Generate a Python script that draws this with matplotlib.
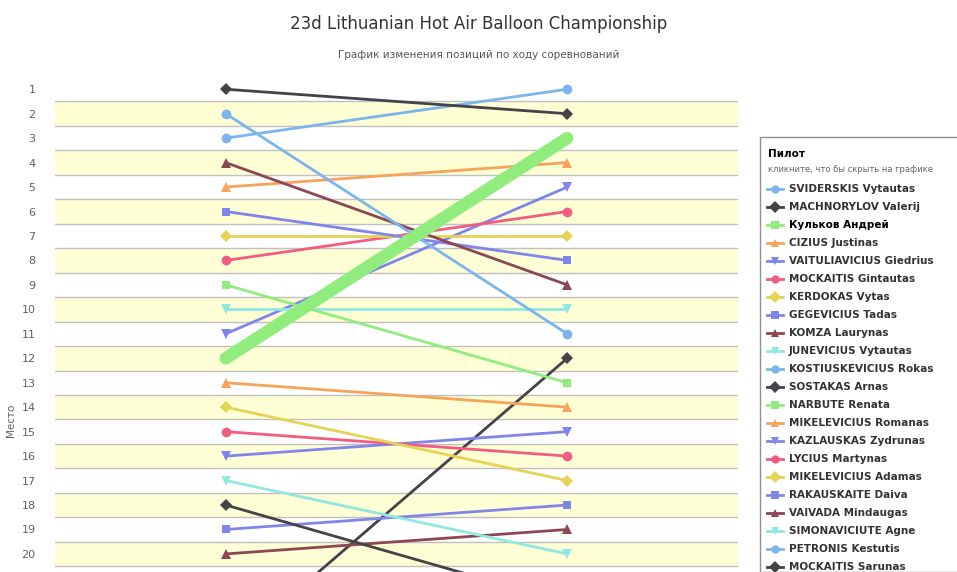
import matplotlib.pyplot as plt
from matplotlib.lines import Line2D
from matplotlib.patches import Rectangle

pilots = [
    "SVIDERSKIS Vytautas", "MACHNORYLOV Valerij", "Кульков Андрей", "CIZIUS Justinas",
    "VAITULIAVICIUS Giedrius", "MOCKAITIS Gintautas", "KERDOKAS Vytas", "GEGEVICIUS Tadas",
    "KOMZA Laurynas", "JUNEVICIUS Vytautas", "KOSTIUSKEVICIUS Rokas", "SOSTAKAS Arnas",
    "NARBUTE Renata", "MIKELEVICIUS Romanas", "KAZLAUSKAS Zydrunas", "LYCIUS Martynas",
    "MIKELEVICIUS Adamas", "RAKAUSKAITE Daiva", "VAIVADA Mindaugas", "SIMONAVICIUTE Agne",
    "PETRONIS Kestutis", "MOCKAITIS Sarunas",
]
place_round1 = [3, 1, 12, 5, 11, 8, 7, 6, 4, 10, 2, 24, 9, 13, 16, 15, 14, 19, 20, 17, 23, 18]
place_round2 = [1, 2, 3, 4, 5, 6, 7, 8, 9, 10, 11, 12, 13, 14, 15, 16, 17, 18, 19, 20, 21, 22]

palette = ['#7cb5ec', '#434348', '#90ed7d', '#f7a35c', '#8085e9',
           '#f15c80', '#e4d354', '#8085e8', '#8d4653', '#91e8e1']
markers = ['o', 'D', 's', '^', 'v']
highlight = "Кульков Андрей"

fig = plt.figure(figsize=(9.57, 5.72), dpi=100)
ax = fig.add_axes([55 / 957, 0, 683 / 957, 1 - 77 / 572])
ax.set_xlim(-0.5, 1.5)
top, bottom = 0.5, 1 + (572 - 89) / 24.47
ax.set_ylim(bottom, top)

for p in range(2, 30, 2):
    ax.axhspan(p - 0.5, p + 0.5, color='#ffffd5', zorder=0, lw=0)
for p in range(1, 30):
    ax.axhline(p + 0.5, color='#c0c0c0', lw=1, zorder=0.5)

for i, name in enumerate(pilots):
    c = palette[i % 10]
    m = markers[i % 5]
    if name == highlight:
        ax.plot([0, 1], [place_round1[i], place_round2[i]], color=c, lw=9,
                solid_capstyle='round', zorder=3)
    else:
        ms = 6 if m in 'Ds' else 7
        ax.plot([0, 1], [place_round1[i], place_round2[i]], color=c, lw=2,
                marker=m, ms=ms, markeredgewidth=0, zorder=2)

ax.set_yticks(range(1, 21))
ax.tick_params(axis='y', length=0, labelsize=8, colors='#606060', pad=14)
ax.set_xticks([])
for s in ax.spines.values():
    s.set_visible(False)

fig.text(0.5, 1 - 24 / 572, "23d Lithuanian Hot Air Balloon Championship",
         ha='center', va='center', fontsize=12, color='#333333')
fig.text(0.5, 1 - 55 / 572, "График изменения позиций по ходу соревнований",
         ha='center', va='center', fontsize=7.5, color='#555555')
fig.text(11 / 957, 1 - 420 / 572, "Место", rotation=90, ha='center', va='center',
         fontsize=7.5, color='#606060')

# legend drawn by hand so it can run off the bottom like the original
W, H = 957, 572
fig.patches.append(Rectangle((760 / W, 0), 220 / W, (H - 137) / H, transform=fig.transFigure,
                             fill=False, ec='#909090', lw=1))
fig.text(768 / W, 1 - 154 / H, "Пилот", fontsize=7.5, weight='bold', va='center')
fig.text(768 / W, 1 - 169 / H, "кликните, что бы скрыть на графике", fontsize=6,
         color='#666666', va='center')
for i, name in enumerate(pilots):
    y = 1 - (189 + i * 18) / H
    c = palette[i % 10]
    fig.lines.append(Line2D([767 / W, 783 / W], [y, y], transform=fig.transFigure,
                            color=c, lw=2))
    fig.lines.append(Line2D([775 / W], [y], transform=fig.transFigure, color=c,
                            marker=markers[i % 5], ms=6, markeredgewidth=0, lw=0))
    fig.text(789 / W, y, name, fontsize=7.5, weight='bold', va='center',
             color='#000000' if name == highlight else '#333333')

fig.savefig("out.png", dpi=100)
